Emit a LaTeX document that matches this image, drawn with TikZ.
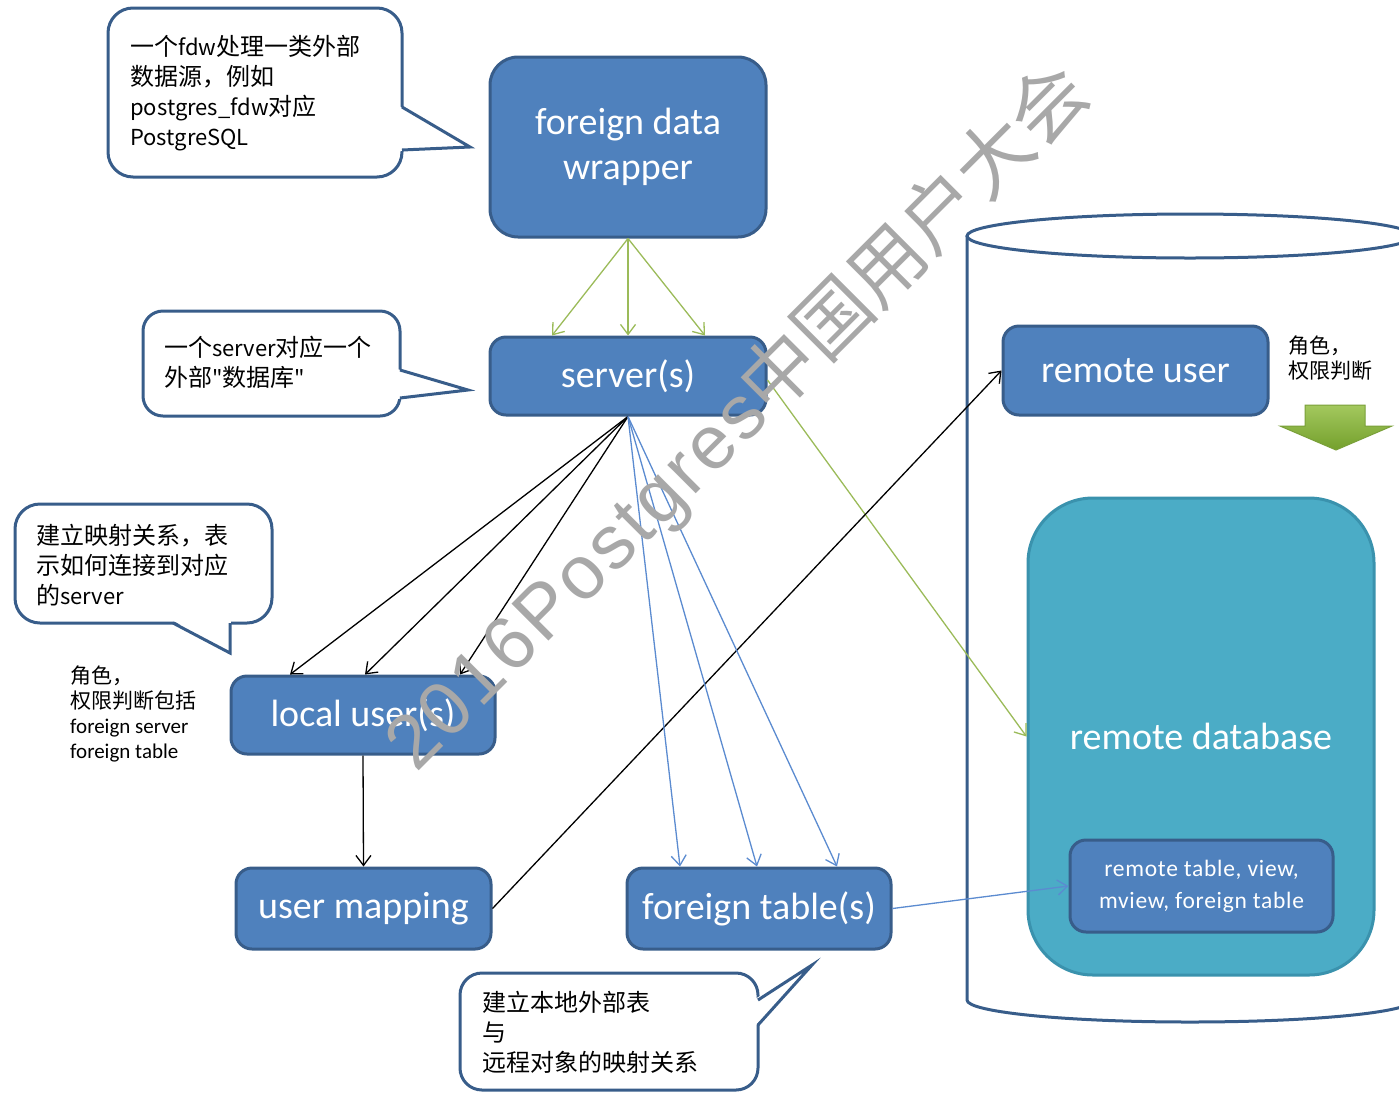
\documentclass[tikz,border=0pt]{standalone}
\usepackage{fontspec}
\setmainfont{Carlito}
\newfontfamily\cjk{Noto Sans CJK SC}[Ligatures=TeXOff]
\newfontfamily\wmlatin{Liberation Sans}
\newcommand{\lat}[1]{{\fontsize{22}{30}\selectfont #1}}
\usetikzlibrary{arrows.meta}
\definecolor{boxblue}{HTML}{4F81BD}
\definecolor{boxedge}{HTML}{385D8A}
\definecolor{dbfill}{HTML}{4BACC6}
\definecolor{dbedge}{HTML}{3A92AD}
\definecolor{grn}{HTML}{9BBB59}
\definecolor{lblue}{HTML}{5B8BD0}
\definecolor{wm}{HTML}{A8A8A8}
\definecolor{bigarrowtop}{HTML}{A3C85E}
\definecolor{bigarrowbot}{HTML}{74A02C}
\definecolor{bigarrowedge}{HTML}{7AA03A}
\begin{document}
\begin{tikzpicture}[x=1pt,y=-1pt,
  bluebox/.style={draw=boxedge, line width=3pt, fill=boxblue, rounded corners=16pt, text=white, align=center, inner sep=0pt, font=\fontsize{38}{45}\selectfont},
  callout/.style={draw=boxedge, line width=3pt, fill=white},
  pointer/.style={draw=boxedge, line width=3pt, line join=miter},
  ctext/.style={anchor=west, align=left, inner sep=0pt, font=\cjk\fontsize{24}{30}\selectfont},
  note/.style={anchor=west, align=left, inner sep=0pt, font=\fontsize{21}{25}\selectfont},
  conn/.style={line width=1.3pt, -{Straight Barb[length=10pt,width=15pt]}},
]
\useasboundingbox (0,0) rectangle (1399,1093);
% cylinder (remote side)
\begin{scope}
\clip (0,0) rectangle (1399,1093);
\draw[boxedge, line width=3pt, fill=white] (967,236) -- (967,1000) arc[start angle=180, end angle=0, x radius=223, y radius=22] -- (1413,236);
\draw[boxedge, line width=3pt] (1190,236) ellipse [x radius=223, y radius=22];
\end{scope}

% callout 1
\draw[callout, rounded corners=25pt] (108,8) rectangle (402,177);
\fill[white] (399,106) -- (470,147) -- (399,151) -- cycle;
\draw[pointer] (402,107) -- (470,147) -- (402,150);
\node[ctext] (t1) at (130,93) {一个\lat{fdw}处理一类外部\\数据源，例如\\\lat{postgres\_fdw}对应\\\lat{PostgreSQL}};

% callout 2
\draw[callout, rounded corners=20pt] (143,311) rectangle (400,416);
\fill[white] (397,369) -- (468,390) -- (397,399) -- cycle;
\draw[pointer] (400,370) -- (468,390) -- (400,398);
\node[ctext] (t2) at (164,362) {一个\lat{server}对应一个\\外部\lat{"}数据库\lat{"}};

% callout 3
\draw[callout, rounded corners=25pt] (15,504) rectangle (272,623);
\fill[white] (172,620) -- (230,653) -- (231,620) -- cycle;
\draw[pointer] (173,623) -- (230,653) -- (230,623);
\node[ctext] (t3) at (36,565) {建立映射关系，表\\示如何连接到对应\\的\lat{server}};

% callout 4
\draw[callout, rounded corners=22pt] (460,973) rectangle (758,1090);
\fill[white] (755,999) -- (812,965) -- (755,1026) -- cycle;
\draw[pointer] (758,1000) -- (812,965) -- (758,1025);
\node[ctext] (t4) at (482,1032) {建立本地外部表\\与\\远程对象的映射关系};

% main boxes
\node[bluebox, minimum width=276pt, minimum height=180pt, rounded corners=28pt] (fdw) at (628,147) {foreign data\\wrapper};
\node[bluebox, minimum width=276pt, minimum height=78pt] (server) at (628,376) {server(s)};
\node[bluebox, minimum width=264pt, minimum height=78pt] (local) at (363,715) {local user(s)};
\node[bluebox, minimum width=255pt, minimum height=81pt] (umap) at (363.5,908.5) {user mapping};
\node[bluebox, minimum width=264pt, minimum height=81pt] (ftab) at (759,908.5) {foreign table(s)};
\node[bluebox, minimum width=265pt, minimum height=89pt] (ruser) at (1135.5,370.5) {remote user};
\node[draw=dbedge, line width=3pt, fill=dbfill, rounded corners=65pt, minimum width=346pt, minimum height=477pt, text=white, inner sep=0pt, font=\fontsize{38}{45}\selectfont] (rdb) at (1201,736.5) {remote database};
\node[bluebox, minimum width=263pt, minimum height=92pt, font=\addfontfeatures{LetterSpace=3}\fontsize{23.5}{32}\selectfont] (inner) at (1201.5,886) {remote table, view,\\mview, foreign table};

% notes
\node[note] (n1) at (70,714) {{\cjk 角色，}\\{\cjk 权限判断包括}\\foreign server\\foreign table};
\node[note] (n2) at (1288,358) {{\cjk 角色，}\\{\cjk 权限判断}};

% big green arrow
\shade[top color=bigarrowtop, bottom color=bigarrowbot, draw=bigarrowedge, line width=1pt] (1305,405) -- (1365,405) -- (1365,426) -- (1392,426) -- (1336,450) -- (1280,426) -- (1305,426) -- cycle;

% connectors
\draw[conn, grn] (fdw.south) -- ([xshift=-76pt]server.north);
\draw[conn, grn] (fdw.south) -- (server.north);
\draw[conn, grn] (fdw.south) -- ([xshift=77pt]server.north);
\draw[conn, grn] ([yshift=-4pt]server.east) -- (rdb.west);

\draw[conn] (server.south) -- ([xshift=-73pt]local.north);
\draw[conn] (server.south) -- ([xshift=2pt]local.north);
\draw[conn] (server.south) -- ([xshift=97pt]local.north);
\draw[conn] (local.south) -- (umap.north);
\draw[conn] (umap.east) -- (ruser.west);

\draw[conn, lblue] (server.south) -- ([xshift=-79pt]ftab.north);
\draw[conn, lblue] (server.south) -- ([xshift=-2pt]ftab.north);
\draw[conn, lblue] (server.south) -- ([xshift=78pt]ftab.north);
\draw[conn, lblue] (ftab.east) -- (inner.west);

% watermark
\node[rotate=45, text=wm, inner sep=0pt, font=\fontsize{76}{76}\selectfont] (wmark) at (738,418) {{\wmlatin\addfontfeatures{LetterSpace=4} 2016Postgres}{\cjk 中国用户大会}};
\end{tikzpicture}
\end{document}
